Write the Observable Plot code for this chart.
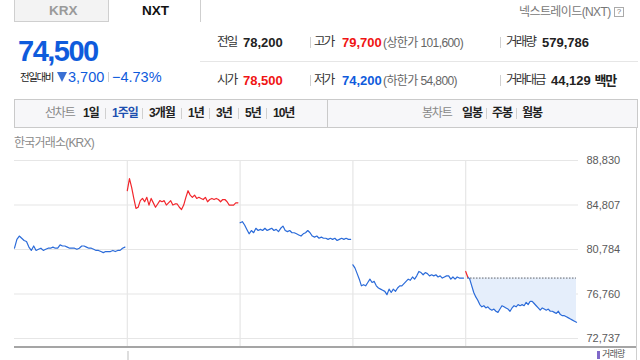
<!DOCTYPE html>
<html><head><meta charset="utf-8">
<script src="https://cdn.jsdelivr.net/npm/d3@7"></script>
<script src="https://cdn.jsdelivr.net/npm/@observablehq/plot@0.6"></script>
<style>
body{margin:0;width:640px;height:360px;overflow:hidden;background:#fff;position:relative;font-family:"Liberation Sans",Arial,"Noto Sans CJK KR",sans-serif;}
.a{position:absolute;white-space:nowrap;line-height:1;}
.ko{letter-spacing:-1.5px;}
.b{font-weight:bold;}
.sep{position:absolute;width:1px;background:#d0d0d0;}
#chart{position:absolute;left:0;top:150px;}
</style>
</head><body>
<!-- tabs -->
<div class="a" style="left:14px;top:0;width:93px;height:21px;background:#f3f3f3;border:1px solid #cfcfcf;border-top:none;"></div>
<div class="a b" style="left:49px;top:4px;font-size:13.5px;color:#9a9a9a;">KRX</div>
<div class="a b" style="left:142px;top:4px;font-size:13.5px;color:#111;">NXT</div>
<div class="sep" style="left:200px;top:0;height:22px;background:#cfcfcf;"></div>
<div class="a ko" style="left:519px;top:6px;font-size:12px;color:#777;letter-spacing:-0.6px;">넥스트레이드(NXT)</div>
<div class="a" style="left:614px;top:7px;width:8px;height:8px;border:1px solid #aaa;font-size:8px;color:#777;text-align:center;line-height:8px;">?</div>

<!-- price block -->
<div class="a b" id="price" style="left:18px;top:37px;font-size:29px;color:#0f5bdc;letter-spacing:-1.5px;"></div>
<div class="a" style="left:20px;top:72px;font-size:10.5px;color:#222;letter-spacing:-1.4px;">전일대비</div>
<div class="a" style="left:57px;top:72px;width:0;height:0;border-left:5px solid transparent;border-right:5px solid transparent;border-top:10px solid #3a6fd3;"></div>
<div class="a" id="chg" style="left:68px;top:70px;font-size:14.5px;color:#0f5bdc;"></div>
<div class="sep" style="left:108px;top:72px;height:10px;"></div>
<div class="a" id="pct" style="left:112px;top:70px;font-size:14.5px;color:#0f5bdc;"></div>

<!-- info grid -->
<div class="a" style="left:200px;top:61px;width:438px;height:1px;background:#e6e6e6;"></div>
<div id="grid"></div>

<!-- toolbar -->
<div class="a" style="left:14px;top:99px;width:622px;height:27px;background:#f7f7f9;border:1px solid #cacaca;"></div>
<div class="sep" style="left:327px;top:100px;height:27px;background:#cacaca;"></div>
<div id="tools"></div>

<div class="a ko" style="left:14px;top:137px;font-size:12px;color:#8a8a8a;letter-spacing:-0.8px;">한국거래소(KRX)</div>
<div id="chart"></div>
<div class="a" style="left:636px;top:127px;width:1px;height:233px;background:#cfcfcf;"></div>
<div class="a" style="left:14px;top:346px;width:622px;height:2px;background:#a5a5a5;"></div>
<div class="a" style="left:127px;top:351px;width:2px;height:9px;background:#dedede;"></div>
<div class="a" style="left:597px;top:351px;width:3px;height:8px;background:#8069c9;"></div>
<div class="a ko" style="left:602px;top:350px;font-size:9px;color:#555;letter-spacing:-0.8px;">거래량</div>

<script>
// ---- header values ----
const currentPrice = 74500;
const changeAbs = 3700;
const changePct = -4.73;
const infoRow1 = [["전일", 78200, "#222", null], ["고가", 79700, "#f01414", "상한가 101,600"], ["거래량", 579786, "#222", null]];
const infoRow2 = [["시가", 78500, "#f01414", null], ["저가", 74200, "#0f5bdc", "하한가 54,800"], ["거래대금", 44129, "#222", "백만"]];
const lineTabs = ["1일", "1주일", "3개월", "1년", "3년", "5년", "10년"];
const lineTabX = [83, 112, 149, 188, 216, 245, 273];
const candleTabs = ["일봉", "주봉", "월봉"];
const candleTabX = [462, 492, 522];

// ---- chart values (5 trading days, intraday prices) ----
const day1 = [80900,81700,82000,81800,81600,81500,81000,80700,81100,80700,80800,80900,80700,80800,80900,80900,81000,80900,80900,81200,81100,81100,81000,80900,80900,80900,80800,80900,81100,81100,81000,80900,80900,80800,80700,80700,80600,80500,80600,80600,80600,80700,80600,80700,80700,80900,81000];
const day2 = [86100,87200,86400,85400,84500,84600,85200,85400,85100,85500,84800,85400,85000,84600,84900,85200,85100,85200,84800,85000,85200,84800,84900,84900,84600,84400,84800,85500,86100,85700,85500,85700,85400,85500,85400,85300,85500,85100,85300,85400,85300,85400,85300,85100,85300,85300,85100,84800,84800,84800,85000,85000];
const day3 = [83200,83300,83000,82600,82200,82500,82300,82700,82500,82600,82500,82700,82500,82600,82700,82500,82600,82400,82700,82900,82500,82400,82500,82300,82300,82200,82100,82000,82200,82300,82500,82300,82000,81900,82000,81800,81900,81800,81800,81700,81800,81700,81800,81600,81700,81800,81700,81800,81700,81700];
const day4 = [79400,79100,78600,78100,77500,77600,77500,77800,78100,77800,77900,77500,77300,77200,77100,77000,76700,77200,76900,77200,77000,77300,77500,77500,77700,77900,78100,78000,78300,78100,78400,78800,78700,78500,78700,78600,78400,78500,78400,78500,78300,78400,78200,78300,78400,78400,78100,78300,78100,78300,78200,78200,78200];
const day5 = [78800,78300,78100,77500,76900,76500,76200,75800,75600,75700,75500,75600,75400,75300,75400,75200,75100,75400,75700,75600,75500,75400,75200,75500,75700,75600,75800,75700,75800,75700,76000,75800,76100,76100,75900,75700,75500,75300,75500,75400,75300,75400,75200,75200,75100,75000,75200,74900,74800,74800,74700,74600,74500,74400,74300,74200];
const yTicks = [72737, 76760, 80784, 84807, 88830];

const fmt = d3.format(",");

// ---- header rendering ----
document.getElementById("price").textContent = fmt(currentPrice);
document.getElementById("chg").textContent = fmt(changeAbs);
document.getElementById("pct").textContent = (changePct < 0 ? "\u2212" : "") + Math.abs(changePct).toFixed(2) + "%";

const grid = document.getElementById("grid");
function add(parent, html) { parent.insertAdjacentHTML("beforeend", html); }
const colX = [[217, 243], [314, 342], [506, 542]];
const sepX = [310, 500];
[[infoRow1, 36], [infoRow2, 74]].forEach(([row, top]) => {
  row.forEach(([label, val, color, extra], i) => {
    const lx = colX[i][0];
    let vx = colX[i][1];
    if (label === "거래대금") vx = 551;
    add(grid, `<div class="a ko" style="left:${lx}px;top:${top}px;font-size:12.5px;color:#333;letter-spacing:-1.8px;">${label}</div>`);
    if (i === 2 && extra) {
      add(grid, `<div class="a b" style="left:${vx}px;top:${top}px;font-size:13px;color:${color};">${fmt(val)} <span style="letter-spacing:-1px">${extra}</span></div>`);
    } else {
      add(grid, `<div class="a b" style="left:${vx}px;top:${top}px;font-size:13px;color:${color};">${fmt(val)}</div>`);
      if (extra) add(grid, `<div class="a" style="left:383px;top:${top + 1}px;font-size:12px;color:#666;letter-spacing:-0.6px;">(${extra})</div>`);
    }
  });
  sepX.forEach(x => add(grid, `<div class="sep" style="left:${x}px;top:${top + 1}px;height:11px;"></div>`));
});

const tools = document.getElementById("tools");
add(tools, `<div class="a ko" style="left:45px;top:107px;font-size:12px;color:#888;letter-spacing:-1.2px;">선차트</div>`);
lineTabs.forEach((t, i) => {
  add(tools, `<div class="a b" style="left:${lineTabX[i]}px;top:107px;font-size:12px;color:${t === "1주일" ? "#1d4fb0" : "#222"};letter-spacing:-1px;">${t}</div>`);
  if (i > 0) add(tools, `<div class="sep" style="left:${lineTabX[i] - 7}px;top:108px;height:11px;"></div>`);
});
add(tools, `<div class="a ko" style="left:422px;top:107px;font-size:12px;color:#888;letter-spacing:-1.2px;">봉차트</div>`);
candleTabs.forEach((t, i) => {
  add(tools, `<div class="a b" style="left:${candleTabX[i]}px;top:107px;font-size:12px;color:#222;letter-spacing:-1px;">${t}</div>`);
  if (i > 0) add(tools, `<div class="sep" style="left:${candleTabX[i] - 6}px;top:108px;height:11px;"></div>`);
});

// ---- chart data ----
const days = [day1, day2, day3, day4, day5];
const rows = [];
days.forEach((arr, d) => {
  const ref = d === 0 ? Infinity : days[d - 1][days[d - 1].length - 1];
  let seg = 0, prevCol = null;
  arr.forEach((p, j) => {
    const col = p > ref ? "up" : "down";
    if (prevCol !== null && col !== prevCol) {
      seg++;
      rows.push({x: d + (j - 1) / arr.length, price: arr[j - 1], z: `${d}-${seg}`, col, day: d});
    }
    rows.push({x: d + j / arr.length, price: p, z: `${d}-${seg}`, col, day: d});
    prevCol = col;
  });
});
const lastDay = days.length - 1;
const lastRef = days[lastDay - 1][days[lastDay - 1].length - 1];
const areaRows = rows.filter(r => r.day === lastDay && r.col === "down");
const dayBounds = d3.range(1, days.length);

const chart = Plot.plot({
  width: 640,
  height: 210,
  marginLeft: 14,
  marginRight: 62,
  marginTop: 10,
  marginBottom: 13,
  x: {domain: [0, days.length], range: [14, 578], axis: null},
  y: {domain: [72737, 88830], range: [188, 10], axis: null},
  style: {fontFamily: "'Liberation Sans', Arial, sans-serif", background: "transparent"},
  marks: [
    Plot.ruleY(yTicks, {stroke: "#e6e6e6", strokeWidth: 1.2}),
    Plot.ruleX(dayBounds, {stroke: "#e6e6e6", strokeWidth: 1.2}),
    Plot.areaY(areaRows, {x: "x", y1: lastRef, y2: "price", fill: "#e5eefb"}),
    Plot.ruleY([lastRef], {x1: areaRows[0].x, x2: areaRows[areaRows.length - 1].x, stroke: "#444", strokeDasharray: "1.2,1.8", strokeWidth: 1}),
    Plot.line(rows.filter(r => r.col === "down"), {x: "x", y: "price", z: "z", stroke: "#2b6bd9", strokeWidth: 1.2}),
    Plot.line(rows.filter(r => r.col === "up"), {x: "x", y: "price", z: "z", stroke: "#f2262c", strokeWidth: 1.2}),
    Plot.text(yTicks, {y: d => d, frameAnchor: "right", textAnchor: "start", dx: 8, text: d => fmt(d), fill: "#5a5a5a", fontSize: 11, letterSpacing: "-0.4px"})
  ]
});
document.getElementById("chart").appendChild(chart);
</script>
</body></html>
